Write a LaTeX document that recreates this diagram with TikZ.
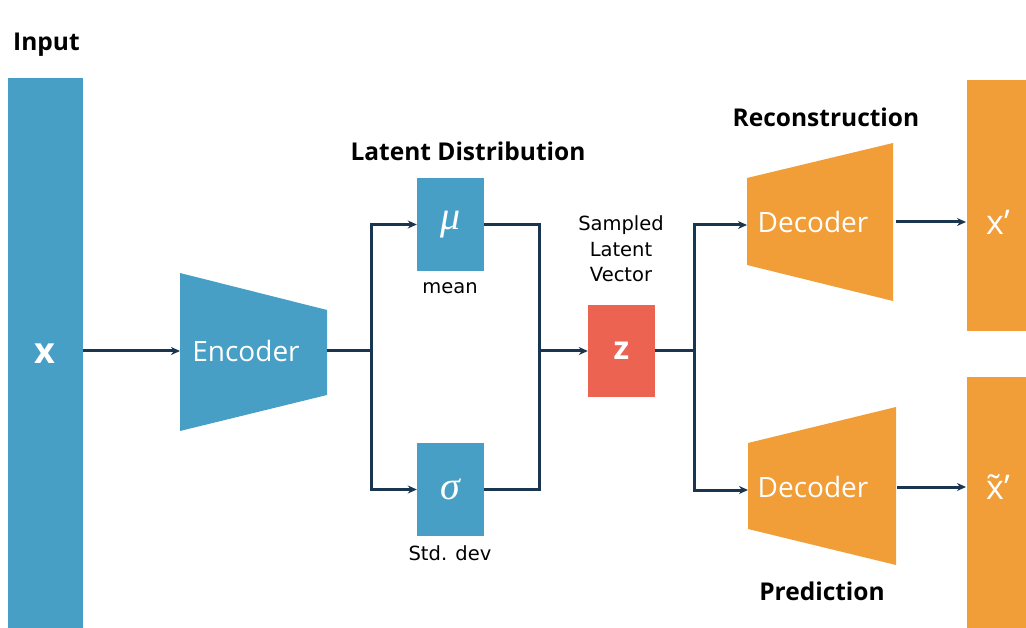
\documentclass[tikz,border=0pt]{standalone}
\usepackage{fontspec}
\setmainfont{Open Sans}
\newfontfamily\labelfont{DejaVu Sans}
\newfontfamily\greekfont{Liberation Serif}
\usetikzlibrary{arrows.meta}
\definecolor{encblue}{RGB}{71,159,198}
\definecolor{decorange}{RGB}{241,158,56}
\definecolor{zred}{RGB}{237,99,82}
\definecolor{wire}{RGB}{26,53,80}
\tikzset{
  heading/.style={font=\fontsize{24.5}{28}\selectfont\bfseries, text=black},
  small/.style={font=\labelfont\fontsize{19.5}{25.5}\selectfont, text=black},
  intext/.style={font=\fontsize{28}{32}\selectfont, text=white},
  latentbox/.style={fill=encblue, minimum width=67pt, minimum height=93pt, inner sep=0pt,
      text=white, font=\greekfont\itshape\fontsize{40}{40}\selectfont},
  link/.style={draw=wire, line width=3pt, line join=miter},
  arr/.style={link, -{Stealth[length=9pt,width=8pt]}},
}
\begin{document}
\begin{tikzpicture}[x=1pt,y=-1pt]
\useasboundingbox (0,0) rectangle (1026,628);

% input column
\fill[encblue] (8,78) rectangle (83,628);
\node[font=\fontsize{36}{36}\selectfont\bfseries, text=white] (x) at (45,354) {x};
\coordinate (inR) at (83,351);
\node[heading, anchor=west, inner sep=0pt] (inputlbl) at (13,45) {Input};

% encoder
\fill[encblue] (180,273) -- (327,310) -- (327,395) -- (180,431) -- cycle;
\node[intext] (enc) at (246,351) {Encoder};
\coordinate (encL) at (180,351);
\coordinate (encR) at (327,351);

% latent distribution
\node[heading] (latlbl) at (468,151) {Latent Distribution};
\node[latentbox] (mu) at (450.5,224.5) {μ};
\node[latentbox] (sigma) at (450.5,489.5) {σ};
\node[small] (meanlbl) at (450,288) {mean};
\node[small] (stdlbl) at (450,553) {Std. dev};

% sampled latent vector
\node[small, align=center] (zlbl) at (621,249) {Sampled\\Latent\\Vector};
\node[fill=zred, minimum width=67pt, minimum height=92pt, inner sep=0pt,
      text=white, font=\fontsize{32}{32}\selectfont\bfseries] (z) at (621.5,351) {z};

% decoders
\fill[decorange] (747,178) -- (893,143) -- (893,301) -- (747,265) -- cycle;
\node[intext] (dec1) at (813,222) {Decoder};
\fill[decorange] (748,443) -- (896,407) -- (896,565) -- (748,529) -- cycle;
\node[intext] (dec2) at (813,487) {Decoder};
\coordinate (d1L) at (747,225);
\coordinate (d2L) at (748,490);
\coordinate (d1R) at (896,222);
\coordinate (d2R) at (897,487);
\node[heading] (reclbl) at (826,117) {Reconstruction};
\node[heading] (predlbl) at (822,591) {Prediction};

% outputs
\fill[decorange] (967,80) rectangle (1026,331);
\fill[decorange] (967,377) rectangle (1026,628);
\node[font=\fontsize{34}{34}\selectfont, text=white] (xr) at (998,222) {x’};
\node[font=\fontsize{34}{34}\selectfont, text=white] (xp) at (998,487) {x̃’};
\coordinate (xrL) at (966,222);
\coordinate (xpL) at (966,487);

% connectors
\draw[arr] (inR) -- (encL);
\coordinate (split1) at (371,351);
\draw[link] (encR) -- (split1);
\draw[arr] (split1) |- (mu.west);
\draw[arr] (split1) |- (sigma.west);
\coordinate (join1) at (539,351);
\draw[link] (mu.east) -| (join1);
\draw[link] (sigma.east) -| (join1);
\draw[arr] (join1) -- (z.west);
\coordinate (split2) at (694,351);
\draw[link] (z.east) -- (split2);
\draw[arr] (split2) |- (d1L);
\draw[arr] (split2) |- (d2L);
\draw[arr] (d1R) -- (xrL);
\draw[arr] (d2R) -- (xpL);
\end{tikzpicture}
\end{document}
